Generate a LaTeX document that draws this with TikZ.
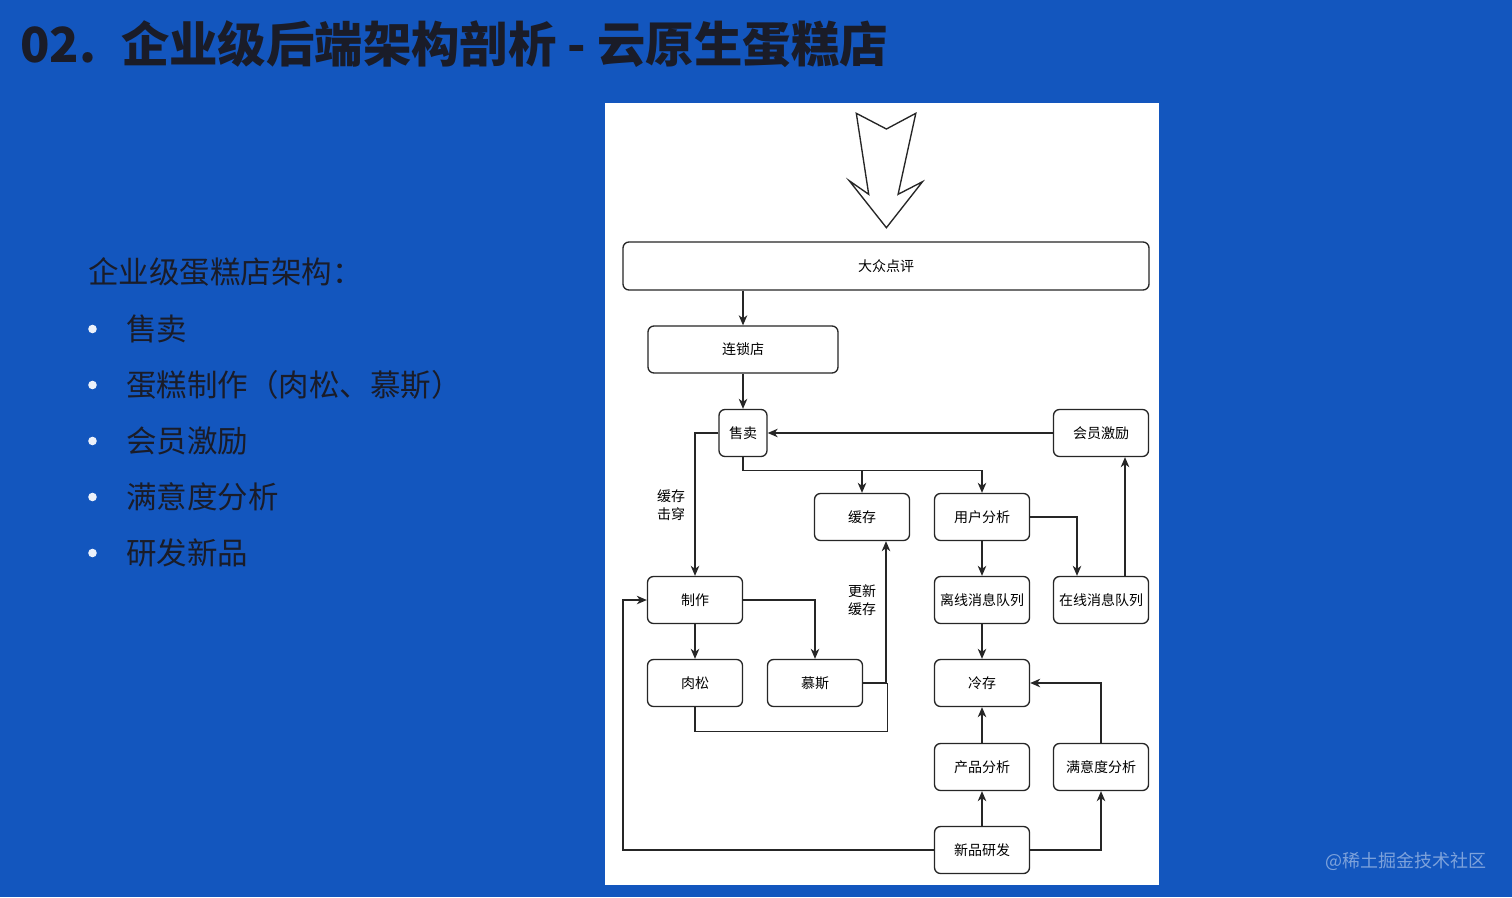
\documentclass[tikz,border=0pt]{standalone}
\usepackage{fontspec}
\setmainfont{Noto Sans CJK SC}
\usetikzlibrary{arrows.meta}

\definecolor{slideblue}{RGB}{19,86,190}
\definecolor{inkdark}{RGB}{26,28,40}

\tikzset{
  box/.style={draw=black!85, line width=1.35pt, rounded corners=6pt, fill=white,
    minimum width=95pt, minimum height=47pt, inner sep=0pt,
    font=\fontsize{14}{16}\selectfont},
  arr/.style={draw=black!85, line width=1.35pt, -{Stealth[length=10pt,width=8.5pt,inset=3pt]}},
  lnk/.style={draw=black!85, line width=1.35pt},
  lbl/.style={align=center, inner sep=0pt, font=\fontsize{14}{18}\selectfont},
  item/.style={anchor=west, inner sep=0pt, text=inkdark, font=\fontsize{30.5}{32}\selectfont}
}

\begin{document}
\begin{tikzpicture}[x=1pt,y=-1pt]
  % slide background
  \fill[slideblue] (0,0) rectangle (1512,897);
  \useasboundingbox (0,0) rectangle (1512,897);

  % title
  \node (title) [anchor=base west, inner sep=0pt, text=inkdark,
    font=\fontsize{48.4}{50}\selectfont\bfseries] at (20,62)
    {02.\hspace{25pt}企业级后端架构剖析 - 云原生蛋糕店};

  % left column
  \node (head) [item] at (88,272) {企业级蛋糕店架构：};
  \foreach \name/\txt/\y in {it1/售卖/329, it2/蛋糕制作（肉松、慕斯）/385,
      it3/会员激励/441, it4/满意度分析/497, it5/研发新品/553} {
    \fill[white!92!slideblue] (92.5,\y) circle (4.3pt);
    \node (\name) [item] at (126,\y) {\txt};
  }

  % diagram canvas
  \fill[white] (605,103) rectangle (1159,885);

  % hollow arrow at the top
  \draw[draw=black!85, line width=1.35pt, fill=white, line join=miter]
    (856.3,113.3) -- (886.4,129) -- (915.8,113.3) -- (898.1,194.3)
    -- (922.5,181.7) -- (886.4,227.7) -- (849.2,180.7) -- (868.7,194.3) -- cycle;

  % boxes
  \node (dzdp) [box, minimum width=526pt, minimum height=48pt] at (886,266) {大众点评};
  \node (lsd)  [box, minimum width=190pt] at (743,349.5) {连锁店};
  \node (sm)   [box, minimum width=48pt] at (743,433) {售卖};
  \node (hyjl) [box] at (1101,433) {会员激励};
  \node (hc)   [box] at (862,517) {缓存};
  \node (yhfx) [box] at (982,517) {用户分析};
  \node (zz)   [box] at (695,600) {制作};
  \node (lxxx) [box] at (982,600) {离线消息队列};
  \node (zxxx) [box] at (1101,600) {在线消息队列};
  \node (rs)   [box] at (695,683) {肉松};
  \node (ms)   [box] at (815,683) {慕斯};
  \node (lc)   [box] at (982,683) {冷存};
  \node (cpfx) [box] at (982,767) {产品分析};
  \node (mydfx)[box] at (1101,767) {满意度分析};
  \node (xpyf) [box] at (982,850) {新品研发};

  % labels
  \node (jc) [lbl] at (671,505) {缓存\\击穿};
  \node (gx) [lbl] at (862,600) {更新\\缓存};

  % connectors
  \draw[arr] (dzdp.south -| lsd) -- (lsd);
  \draw[arr] (lsd) -- (sm);
  \draw[arr] (hyjl) -- (sm);
  \draw[arr] (sm.south) -- ++(0,13) -| (hc);
  \draw[arr] (sm.south) -- ++(0,13) -| (yhfx);
  \draw[arr] (sm.west) -| (zz);
  \draw[arr] (yhfx.east) -| ([xshift=-24pt]zxxx.north);
  \draw[arr] ([xshift=24pt]zxxx.north) -- ([xshift=24pt]hyjl.south);
  \draw[arr] (yhfx) -- (lxxx);
  \draw[arr] (lxxx) -- (lc);
  \draw[arr] (cpfx) -- (lc);
  \draw[arr] (xpyf) -- (cpfx);
  \draw[arr] (xpyf.east) -| (mydfx.south);
  \draw[arr] (mydfx.north) |- (lc.east);
  \draw[arr] (xpyf.west) -- ++(-311,0) |- (zz.west);
  \draw[arr] (zz) -- (rs);
  \draw[arr] (zz.east) -| (ms.north);
  \draw[arr] (ms.east) -| ([xshift=24pt]hc.south);
  \draw[lnk] (rs.south) -- ++(0,24) -| ([xshift=24pt]ms.east);

  % watermark
  \node (wm) [inner sep=0pt, text=white, opacity=0.45,
    font=\fontsize{18}{20}\selectfont] at (1406,861) {@稀土掘金技术社区};
\end{tikzpicture}
\end{document}
